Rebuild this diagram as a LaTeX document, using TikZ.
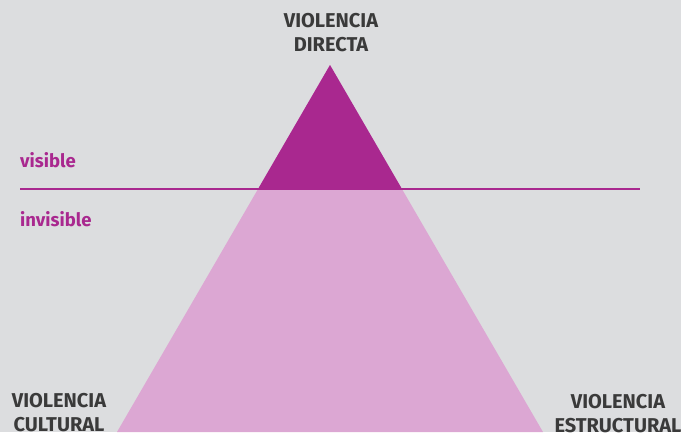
\documentclass[tikz,border=0pt]{standalone}
\usepackage{fontspec}
\setmainfont{Fira Sans}
\usetikzlibrary{positioning}
\definecolor{bggray}{HTML}{DCDDDF}
\definecolor{darkmag}{HTML}{A9288F}
\definecolor{lightmag}{HTML}{DCA7D3}
\definecolor{labelgray}{HTML}{3A3A3A}
\begin{document}
\begin{tikzpicture}[x=1pt, y=-1pt,
   corner/.style={align=center, text=labelgray, font=\bfseries\fontsize{20}{24}\selectfont, inner sep=0pt},
   level/.style={anchor=base west, text=darkmag, font=\bfseries\fontsize{18.5}{20}\selectfont, inner sep=0pt}]
   \fill[bggray] (0,0) rectangle (681,432);
   \useasboundingbox (0,0) rectangle (681,432);

   \coordinate (top) at (330,65);
   \coordinate (bl) at (117,432);
   \coordinate (br) at (543,432);

   \fill[lightmag] (top) -- (bl) -- (br) -- cycle;
   \begin{scope}
      \clip (0,0) rectangle (681,189);
      \fill[darkmag] (top) -- (bl) -- (br) -- cycle;
   \end{scope}

   \coordinate (ls) at (20,189);
   \coordinate (le) at (640,189);
   \draw[darkmag, line width=1.5pt] (ls) -- (le);

   \node (vis) at (20,167) [level] {visible};
   \node (invis) at (20,226) [level] {invisible};

   \node (directa) at (331,33) [corner] {VIOLENCIA\\DIRECTA};
   \node (cultural) at (59,413) [corner] {VIOLENCIA\\CULTURAL};
   \node (estructural) at (618,414) [corner] {VIOLENCIA\\ESTRUCTURAL};
\end{tikzpicture}
\end{document}
